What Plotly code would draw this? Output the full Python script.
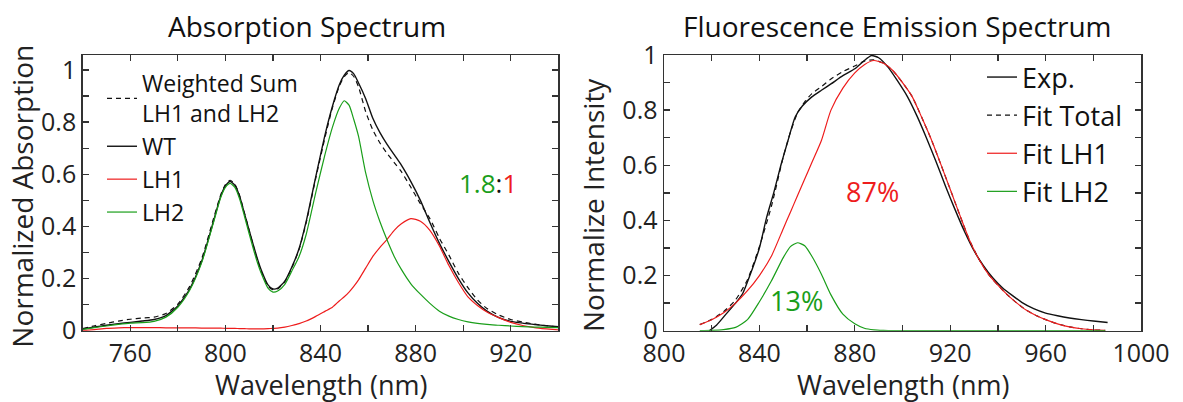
import plotly.graph_objects as go

# ---------------- Absorption data ----------------
abs_nm = [740, 745, 750, 755, 760, 765, 770, 775, 780, 785, 790, 795, 798, 800, 802, 804, 806, 808,
          810, 813, 815, 818, 820, 822, 825, 828, 831, 834, 838, 842, 845, 848, 850, 852, 854, 856,
          859, 862, 865, 868, 871, 874, 878, 882, 886, 890, 894, 898, 902, 906, 910, 915, 920, 925,
          930, 935, 940]
abs_wt = [0.006, 0.014, 0.021, 0.027, 0.032, 0.037, 0.043, 0.058, 0.095, 0.16, 0.265, 0.42, 0.515,
          0.555, 0.572, 0.558, 0.515, 0.45, 0.385, 0.29, 0.235, 0.175, 0.16, 0.163, 0.19, 0.245,
          0.315, 0.42, 0.59, 0.755, 0.86, 0.945, 0.98, 0.998, 0.985, 0.95, 0.89, 0.815, 0.76, 0.715,
          0.675, 0.635, 0.572, 0.5, 0.415, 0.335, 0.265, 0.2, 0.145, 0.105, 0.075, 0.05, 0.036,
          0.029, 0.024, 0.019, 0.015]
abs_sum = [0.008, 0.019, 0.028, 0.037, 0.044, 0.049, 0.052, 0.066, 0.102, 0.17, 0.275, 0.43, 0.52,
           0.56, 0.577, 0.562, 0.518, 0.452, 0.385, 0.285, 0.228, 0.17, 0.157, 0.16, 0.188, 0.242,
           0.312, 0.415, 0.585, 0.745, 0.855, 0.94, 0.975, 0.99, 0.975, 0.935, 0.84, 0.77, 0.72,
           0.68, 0.645, 0.61, 0.55, 0.487, 0.43, 0.355, 0.29, 0.22, 0.165, 0.118, 0.085, 0.06,
           0.043, 0.033, 0.025, 0.019, 0.014]
abs_lh1 = [0.0, 0.004, 0.009, 0.011, 0.012, 0.012, 0.012, 0.011, 0.011, 0.011, 0.01, 0.01, 0.01,
           0.009, 0.009, 0.009, 0.008, 0.008, 0.007, 0.007, 0.007, 0.008, 0.009, 0.01, 0.014, 0.02,
           0.027, 0.037, 0.055, 0.075, 0.09, 0.115, 0.13, 0.148, 0.17, 0.195, 0.24, 0.285, 0.32,
           0.35, 0.385, 0.41, 0.43, 0.42, 0.385, 0.325, 0.25, 0.185, 0.13, 0.097, 0.072, 0.05,
           0.032, 0.02, 0.012, 0.007, 0.003]
abs_lh2 = [0.005, 0.012, 0.018, 0.024, 0.029, 0.031, 0.036, 0.052, 0.09, 0.155, 0.26, 0.415, 0.51,
           0.55, 0.565, 0.55, 0.505, 0.44, 0.372, 0.275, 0.222, 0.162, 0.148, 0.152, 0.178, 0.23,
           0.285, 0.37, 0.53, 0.68, 0.78, 0.855, 0.882, 0.865, 0.81, 0.745, 0.605, 0.5, 0.418,
           0.348, 0.285, 0.235, 0.18, 0.14, 0.105, 0.075, 0.056, 0.043, 0.034, 0.028, 0.024,
           0.021, 0.018, 0.016, 0.014, 0.013, 0.012]

# ---------------- Emission data ----------------
exp_nm = [819, 822, 826, 830, 833, 836, 840, 843, 846, 849, 852, 855, 858, 862, 866, 870, 875, 880,
          884, 887, 890, 894, 898, 902, 906, 910, 914, 918, 922, 926, 930, 934, 938, 942, 946, 950,
          955, 960, 965, 970, 975, 980, 986]
exp_val = [0.0, 0.02, 0.06, 0.1, 0.135, 0.2, 0.3, 0.41, 0.5, 0.6, 0.69, 0.775, 0.815, 0.848, 0.872,
           0.895, 0.925, 0.95, 0.98, 0.998, 0.99, 0.955, 0.905, 0.85, 0.78, 0.7, 0.615, 0.525, 0.44,
           0.36, 0.29, 0.235, 0.19, 0.155, 0.128, 0.103, 0.08, 0.064, 0.054, 0.046, 0.04, 0.035, 0.03]

fit_nm = [815, 820, 825, 830, 835, 840, 845, 850, 853, 856, 859, 862, 866, 870, 875, 880, 884, 888,
          892, 896, 900, 904, 908, 912, 916, 920, 924, 928, 932, 936, 940, 944, 948, 952, 956, 960,
          965, 970, 975, 980, 985]
fit_total = [0.022, 0.041, 0.069, 0.112, 0.185, 0.305, 0.45, 0.63, 0.72, 0.79, 0.83, 0.86, 0.885,
             0.913, 0.94, 0.96, 0.978, 0.982, 0.97, 0.943, 0.9, 0.85, 0.775, 0.695, 0.605, 0.513,
             0.42, 0.33, 0.26, 0.205, 0.165, 0.13, 0.1, 0.074, 0.055, 0.04, 0.025, 0.014, 0.007,
             0.003, 0.001]
fit_lh1 = [0.022, 0.04, 0.065, 0.1, 0.145, 0.2, 0.27, 0.37, 0.43, 0.49, 0.55, 0.61, 0.69, 0.8,
           0.88, 0.935, 0.965, 0.98, 0.97, 0.943, 0.9, 0.85, 0.775, 0.695, 0.605, 0.513, 0.42,
           0.33, 0.26, 0.205, 0.165, 0.13, 0.1, 0.074, 0.055, 0.04, 0.025, 0.014, 0.007, 0.003,
           0.001]
fit_lh2 = [0.0, 0.001, 0.004, 0.012, 0.04, 0.105, 0.18, 0.265, 0.305, 0.319, 0.308, 0.27, 0.205,
           0.13, 0.06, 0.025, 0.009, 0.003, 0.001, 0.0, 0.0, 0.0, 0.0, 0.0, 0.0, 0.0, 0.0, 0.0, 0.0,
           0.0, 0.0, 0.0, 0.0, 0.0, 0.0, 0.0, 0.0, 0.0, 0.0, 0.0, 0.0]

# ---------------- Ticks ----------------
abs_xticks = [740, 760, 780, 800, 820, 840, 860, 880, 900, 920, 940]
abs_xlabels = ['', '760', '', '800', '', '840', '', '880', '', '920', '']
em_xticks = [800, 820, 840, 860, 880, 900, 920, 940, 960, 980, 1000]
em_xlabels = ['800', '', '840', '', '880', '', '920', '', '960', '', '1000']
yticks = [0, 0.1, 0.2, 0.3, 0.4, 0.5, 0.6, 0.7, 0.8, 0.9, 1.0]
ylabels = ['0', '', '0.2', '', '0.4', '', '0.6', '', '0.8', '', '1']

BLACK = '#111111'
RED = '#ee1c1c'
GREEN = '#1a9e1a'
FONT = 'Open Sans'

fig = go.Figure()
sp = dict(shape='spline', smoothing=0.6)

fig.add_trace(go.Scatter(x=abs_nm, y=abs_sum, mode='lines', name='Weighted Sum<br>LH1 and LH2',
                         line=dict(color=BLACK, width=1.2, dash='5px,4px', **sp),
                         xaxis='x', yaxis='y', legend='legend'))
fig.add_trace(go.Scatter(x=abs_nm, y=abs_wt, mode='lines', name='WT',
                         line=dict(color=BLACK, width=1.4, **sp), xaxis='x', yaxis='y', legend='legend'))
fig.add_trace(go.Scatter(x=abs_nm, y=abs_lh1, mode='lines', name='LH1',
                         line=dict(color=RED, width=1.2, **sp), xaxis='x', yaxis='y', legend='legend'))
fig.add_trace(go.Scatter(x=abs_nm, y=abs_lh2, mode='lines', name='LH2',
                         line=dict(color=GREEN, width=1.2, **sp), xaxis='x', yaxis='y', legend='legend'))

fig.add_trace(go.Scatter(x=exp_nm, y=exp_val, mode='lines', name='Exp.',
                         line=dict(color=BLACK, width=1.4, **sp), xaxis='x2', yaxis='y2', legend='legend2'))
fig.add_trace(go.Scatter(x=fit_nm, y=fit_total, mode='lines', name='Fit Total',
                         line=dict(color=BLACK, width=1.2, dash='5px,4px', **sp), xaxis='x2', yaxis='y2',
                         legend='legend2'))
fig.add_trace(go.Scatter(x=fit_nm, y=fit_lh1, mode='lines', name='Fit LH1',
                         line=dict(color=RED, width=1.2, **sp), xaxis='x2', yaxis='y2', legend='legend2'))
fig.add_trace(go.Scatter(x=fit_nm, y=fit_lh2, mode='lines', name='Fit LH2',
                         line=dict(color=GREEN, width=1.2, **sp), xaxis='x2', yaxis='y2', legend='legend2'))

axis_common = dict(showgrid=False, zeroline=False, showline=True, linecolor='#333333', linewidth=1.5,
                   mirror='ticks', ticks='inside', ticklen=6, tickwidth=1.3, tickcolor='#333333',
                   automargin=False,
                   tickfont=dict(family=FONT, size=25, color='#222222'))

W, H = 1183, 402
ydom = [(H - 330.7) / H, (H - 55) / H]
fig.update_layout(
    template='none',
    width=W, height=H, margin=dict(l=0, r=0, t=0, b=0, pad=0),
    paper_bgcolor='white', plot_bgcolor='white',
    font=dict(family=FONT, color=BLACK),
    xaxis=dict(domain=[82.7 / W, 558.3 / W], range=[740, 940], tickmode='array',
               tickvals=abs_xticks, ticktext=abs_xlabels, anchor='y', **axis_common),
    yaxis=dict(domain=ydom, range=[0, 1.0575], tickmode='array', tickvals=yticks,
               ticktext=ylabels, anchor='x', **axis_common),
    xaxis2=dict(domain=[664 / W, 1141 / W], range=[800, 1000], tickmode='array',
                tickvals=em_xticks, ticktext=em_xlabels, anchor='y2', **axis_common),
    yaxis2=dict(domain=ydom, range=[0, 1.0], tickmode='array', tickvals=yticks,
                ticktext=ylabels, anchor='x2', **axis_common),
    legend=dict(x=102 / W, y=(H - 62) / H, xanchor='left', yanchor='top', bgcolor='rgba(0,0,0,0)',
                borderwidth=0, font=dict(family=FONT, size=23, color=BLACK), tracegroupgap=0),
    legend2=dict(x=982 / W, y=(H - 53) / H, xanchor='left', yanchor='top', bgcolor='rgba(0,0,0,0)',
                 borderwidth=0, font=dict(family=FONT, size=27, color=BLACK), tracegroupgap=0),
    showlegend=True,
)

ann = []
# Titles
ann.append(dict(text='Absorption Spectrum', x=307 / W, y=(H - 26) / H, xref='paper', yref='paper',
                showarrow=False, xanchor='center', yanchor='middle', font=dict(family=FONT, size=28, color=BLACK)))
ann.append(dict(text='Fluorescence Emission Spectrum', x=897 / W, y=(H - 26) / H, xref='paper', yref='paper',
                showarrow=False, xanchor='center', yanchor='middle', font=dict(family=FONT, size=28, color=BLACK)))
# Axis titles
ann.append(dict(text='Wavelength (nm)', x=320.7 / W, y=(H - 384) / H, xref='paper', yref='paper',
                showarrow=False, xanchor='center', yanchor='middle', font=dict(family=FONT, size=27, color='#222222')))
ann.append(dict(text='Wavelength (nm)', x=902.8 / W, y=(H - 384) / H, xref='paper', yref='paper',
                showarrow=False, xanchor='center', yanchor='middle', font=dict(family=FONT, size=27, color='#222222')))
ann.append(dict(text='Normalized Absorption', x=22 / W, y=(H - 196.7) / H, xref='paper', yref='paper',
                showarrow=False, xanchor='center', yanchor='middle', textangle=-90,
                font=dict(family=FONT, size=28, color='#222222')))
ann.append(dict(text='Normalize Intensity', x=593 / W, y=(H - 205) / H, xref='paper', yref='paper',
                showarrow=False, xanchor='center', yanchor='middle', textangle=-90,
                font=dict(family=FONT, size=28, color='#222222')))
# In-plot labels
ann.append(dict(text=f"<span style='color:{GREEN}'>1.8</span>:<span style='color:{RED}'>1</span>",
                x=910.5, y=0.565, xref='x', yref='y', showarrow=False, xanchor='center', yanchor='middle',
                font=dict(family=FONT, size=26, color=BLACK)))
ann.append(dict(text='87%', x=887.3, y=0.504, xref='x2', yref='y2', showarrow=False,
                xanchor='center', yanchor='middle', font=dict(family=FONT, size=27, color=RED)))
ann.append(dict(text='13%', x=855.6, y=0.108, xref='x2', yref='y2', showarrow=False,
                xanchor='center', yanchor='middle', font=dict(family=FONT, size=27, color=GREEN)))
fig.update_layout(annotations=ann)

fig.write_html('out.html', config={'displayModeBar': False, 'staticPlot': True},
               post_script="document.body.style.margin='0px';document.body.style.overflow='hidden';")
